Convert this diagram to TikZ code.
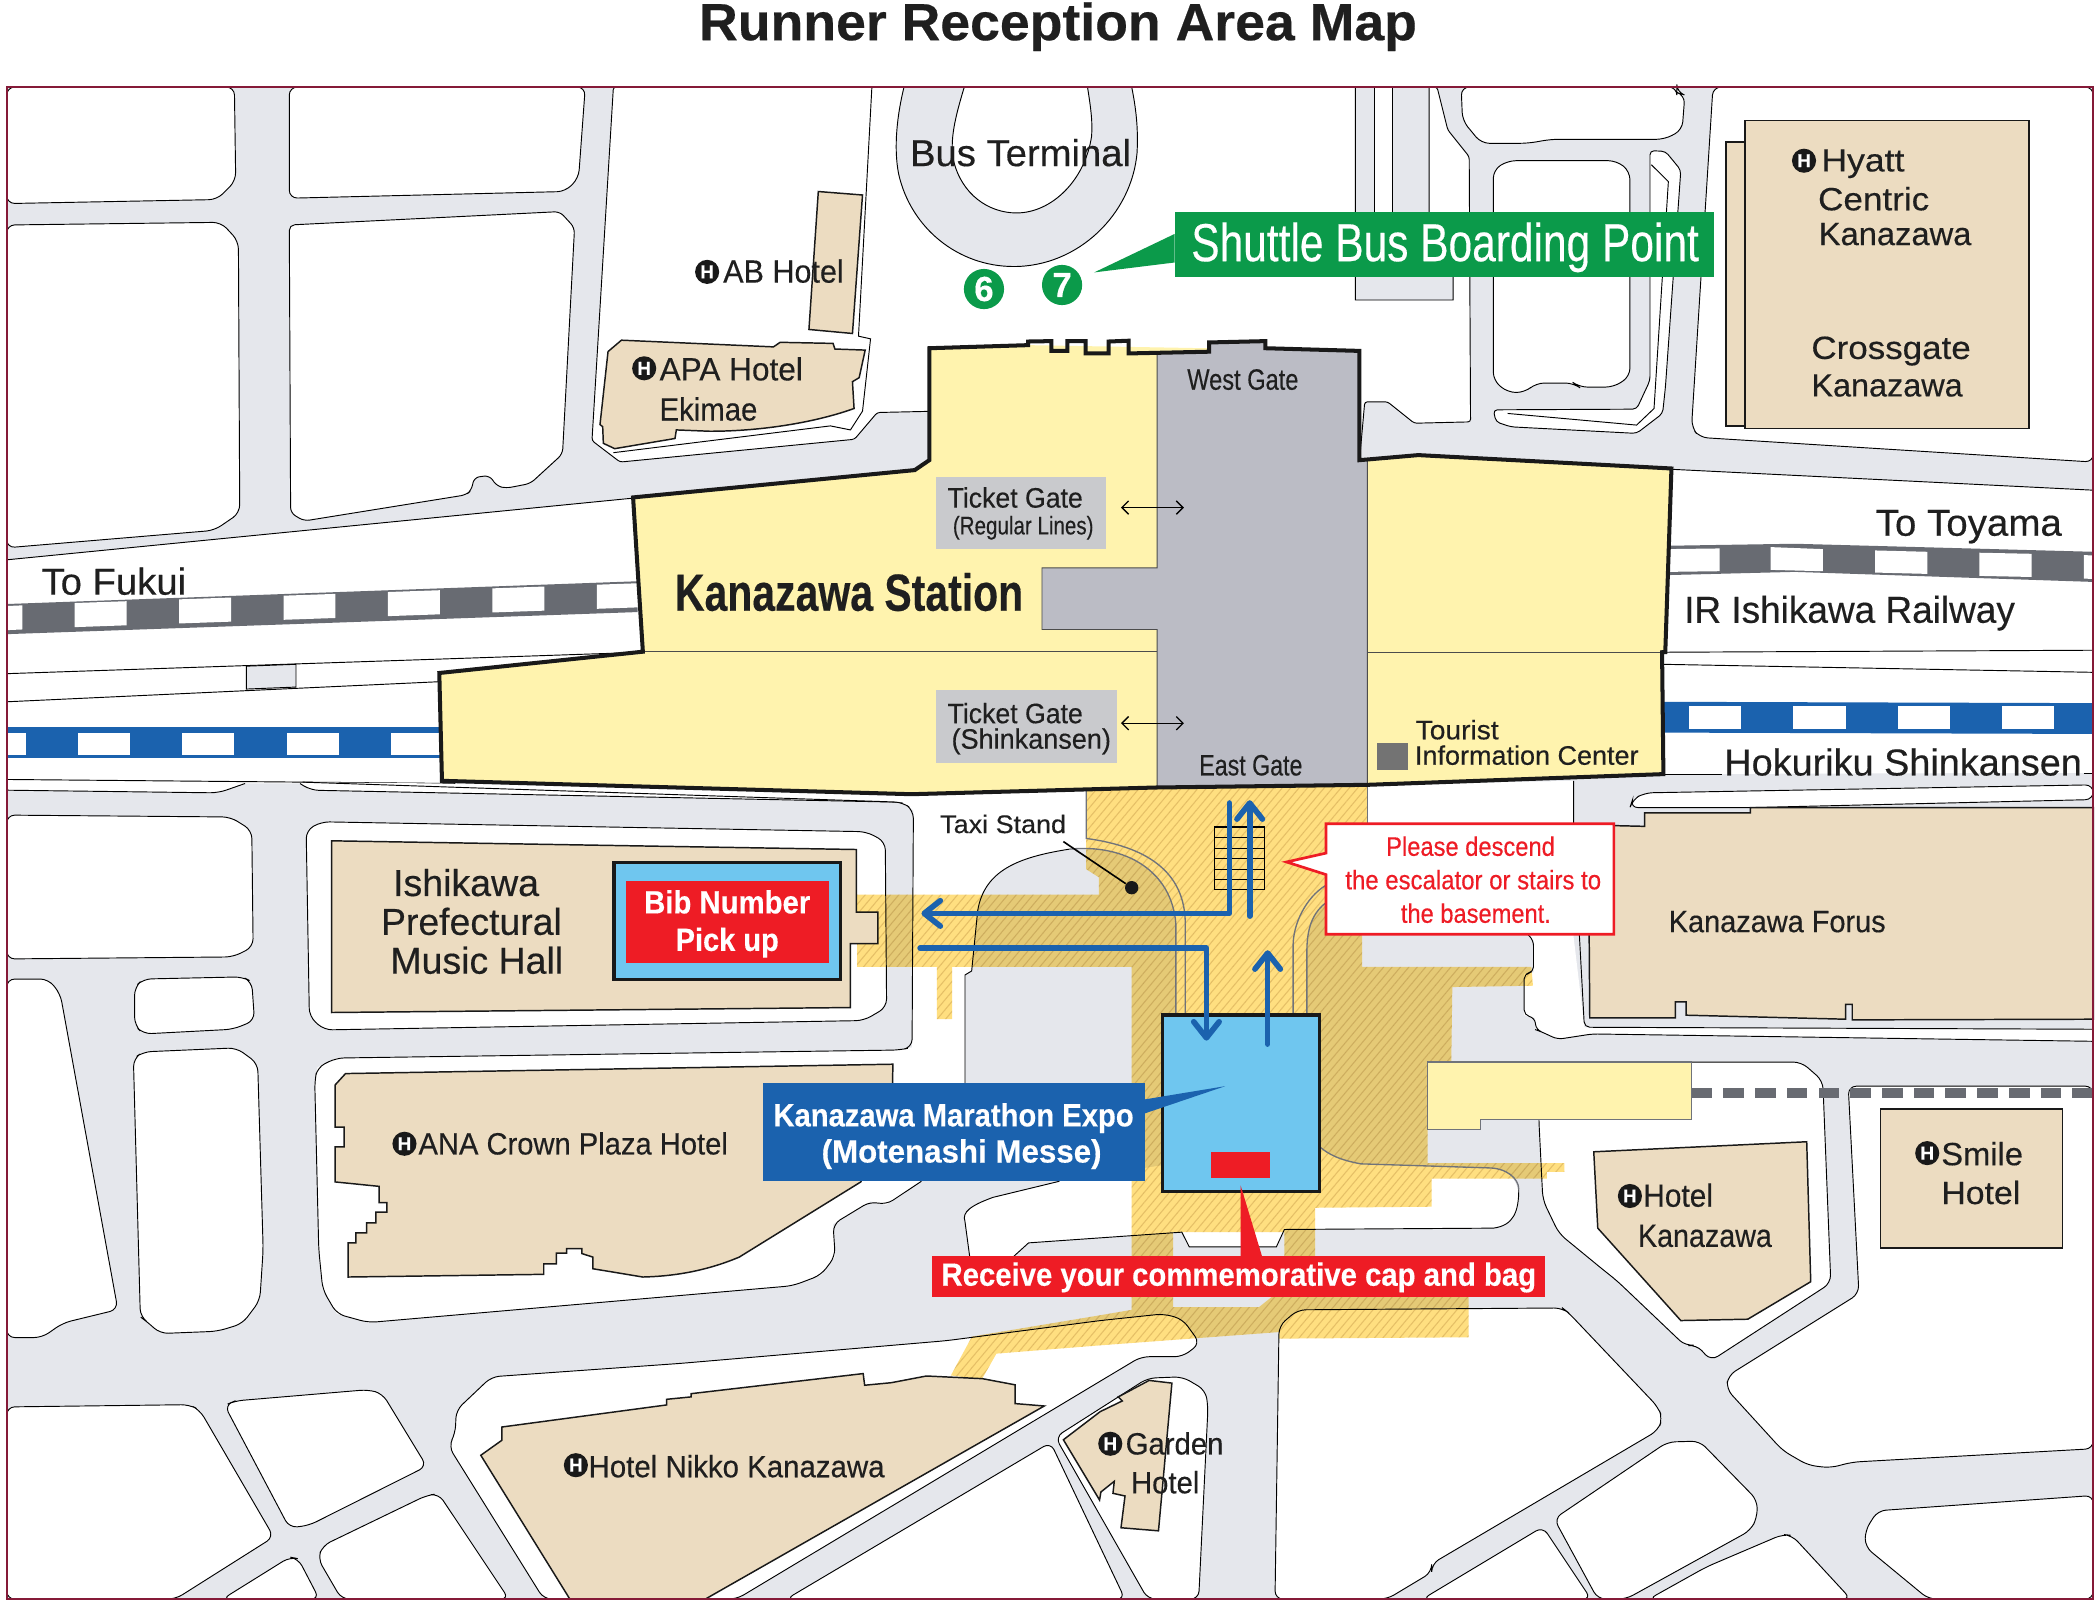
\documentclass[tikz,border=0pt]{standalone}
\usepackage{fontspec}
\setmainfont{Liberation Sans}[RawFeature={embolden=0.35}]
\usetikzlibrary{arrows.meta,patterns.meta}
\definecolor{roadc}{HTML}{E5E7EC}
\definecolor{beigec}{HTML}{ECDCC1}
\definecolor{yelc}{HTML}{FFF3AE}
\definecolor{stnc}{HTML}{BBBCC5}
\definecolor{gatec}{HTML}{C9CACD}
\definecolor{railc}{HTML}{686B72}
\definecolor{bluec}{HTML}{1B62AE}
\definecolor{skyc}{HTML}{6FC6EF}
\definecolor{redc}{HTML}{EE1C25}
\definecolor{greenc}{HTML}{0B9A4A}
\definecolor{framec}{HTML}{851A38}
\definecolor{hatchc}{HTML}{FFDF80}
\definecolor{hlinec}{HTML}{E6DCCE}
\definecolor{arcc}{HTML}{70737A}
\newcommand\fs[1]{\fontsize{#1}{#1}\selectfont}
\newcommand\fitw[2]{\resizebox{\dimexpr#1pt/2\relax}{\height}{#2}}
\newcommand\lab[6]{\node[lab] (#1) at (#2,#3) {\fs{#5}\fitw{#4}{#6}};}
\tikzset{
 lab/.style={anchor=base,inner sep=0pt,text=black!88},
 blk/.style={fill=white,draw=black,line width=.35pt,rounded corners=3pt},
 bld/.style={fill=beigec,draw=black!90,line width=.55pt,line join=miter},
 thin line/.style={draw=black,line width=.35pt},
 arc line/.style={draw=arcc,line width=.5pt},
 hic/.style={circle,fill=black!90,text=white,inner sep=0pt,minimum size=9pt,font=\fs{7}\bfseries},
 num/.style={circle,fill=greenc,text=white,inner sep=0pt,minimum size=15pt,font=\fs{13}\bfseries},
 flow/.style={draw=bluec,line width=2.1pt,line cap=round,line join=round},
 flowtip/.style={-{Straight Barb[length=6pt,width=9.5pt,round]}},
 gatearrow/.style={draw=black,line width=.5pt,{Straight Barb[length=2.5pt,width=5pt]}-{Straight Barb[length=2.5pt,width=5pt]}},
}
\begin{document}
\begin{tikzpicture}[x=0.5pt,y=-0.5pt]
\useasboundingbox (0,0) rectangle (1568,1199.1);
\fill[white] (0,0) rectangle (1568,1199.1);
% road base
\fill[roadc] (5,65) rectangle (1563,1194);
% white city blocks
\draw[blk] (5,65)--(175,65)--(176,135)--(162,149)--(5,152)--cycle;
\draw[blk] (216,65)--(437,65)--(432,133)--(422,143)--(216,148)--cycle;
\draw[blk] (5,168)--(165,166)--(178,180)--(179,383)--(160,396)--(5,409)--cycle;
\draw[blk,rounded corners=2pt] (216,168)--(418,158)--(429,170)--(420,339)--(396,361)--(378,364.5)--(371,363)--(365.5,355)--(354,356.5)--(352,366)--(348,369.5)--(227,389)--(217,383)--cycle;
\draw[blk] (5,608.6)--(172,610)--(188,620)--(189,707)--(174,714.5)--(5,716)--cycle;
\draw[blk] (107,731)--(181,729.4)--(188,733)--(190,762)--(174,768.5)--(107,772)--(100.5,765.5)--(100.5,737)--cycle;
\draw[blk] (107,785.4)--(176.5,782.4)--(192.4,794)--(196.5,933)--(194,971)--(181,988.3)--(162.4,994)--(119.5,995.7)--(110,987)--(104.8,983.3)--(99.6,790.4)--cycle;
\draw[blk] (5,731)--(36,731)--(45,742)--(88,977.8)--(47,987.8)--(31.4,998.7)--(5,998.7)--cycle;
\draw[blk] (5,1050.5)--(141.5,1048.8)--(149.3,1053)--(204.4,1147.6)--(131,1194)--(5,1194)--cycle;
\draw[blk] (167.7,1049.3)--(175.5,1046)--(275,1037.6)--(285.6,1040.6)--(318.6,1094.8)--(230.6,1139)--(216,1140.7)--cycle;
\draw[blk] (241,1154)--(318.6,1116.5)--(327.5,1115.3)--(380,1194)--(255,1194)--(237.4,1163.8)--cycle;
\draw[blk] (216.4,1162.6)--(222.7,1163.8)--(238.4,1194)--(166,1194)--cycle;
\draw[blk] (340.6,1053)--(367,1028)--(508,1018)--(707,1001)--(821.6,986)--(869,981)--(883,985)--(896,1003)--(883,1013)--(852,1013)--(550,1194)--(406,1194)--(335,1080)--(340,1070)--cycle;
\draw[blk] (587,1194)--(784.4,1077)--(840,1194)--cycle;
\draw[blk] (788,1073)--(857,1029)--(883,1028)--(900,1038)--(902,1050)--(895,1194)--(857,1194)--cycle;
\draw[blk] (952,1194)--(955,990)--(969,978)--(1166.6,976.6)--(1171,980)--(1238,1050.6)--(1241.3,1059)--(1238,1068)--(1069,1167.6)--(1069,1174)--(1035.7,1194)--cycle;
\draw[blk] (1062,1194)--(1152,1140)--(1188,1194)--cycle;
\draw[blk] (1160.4,1134)--(1245,1076.7)--(1269,1076)--(1312,1120)--(1312,1133)--(1307,1142.7)--(1214,1194)--(1193,1194)--cycle;
\draw[blk] (1231,1194)--(1274,1170)--(1331,1145.7)--(1338,1146.4)--(1382,1194)--cycle;
\draw[blk] (1440,1194)--(1392.7,1155)--(1392.7,1142.7)--(1402,1128)--(1563,1116.6)--(1563,1194)--cycle;
\draw[blk] (1380,811)--(1563,811)--(1563,1081.7)--(1383,1091.7)--(1366.5,1096)--(1350,1094)--(1331,1083)--(1289,1037)--(1290.4,1027)--(1388,966)--cycle;
\draw[blk] (1149,793)--(1345,793)--(1361,807)--(1367,958)--(1277.5,1016)--(1266.6,1004)--(1258.5,1005)--(1207,956)--(1197.5,948.5)--(1164,921)--(1152,896)--(1149,836)--cycle;
% plaza north of the station
\draw[blk,rounded corners=1pt] (458,65)--(442,329)--(463,345)--(638,328)--(655,308)--(700,307)--(1015,345)--(1019,300)--(1036,300)--(1056,316)--(1098,315)--(1097,117)--(1081,97)--(1073,65)--cycle;
\draw[thin line] (651,65)--(641,251)--(650,253)--(644,307)--(635,321)--(620,318)--(458,338);
% bus terminal ring
\draw[fill=roadc,thin line] (675,65) .. controls (670,85) and (667,110) .. (671,130) .. controls (680,170) and (715,199) .. (757,199) .. controls (805,199) and (845,160) .. (849,114) .. controls (850,95) and (848,80) .. (845,65) -- (812,65) .. controls (814,78) and (816,90) .. (815,102) .. controls (810,135) and (785,159) .. (759,159) .. controls (738,159) and (718,145) .. (712,120) .. controls (709,105) and (713,88) .. (720,65) -- cycle;
% gray bar north east of the station
\draw[fill=roadc,thin line] (1012,65)--(1012,224)--(1085,224)--(1085,190)--(1067,160)--(1067,65)--cycle;
\draw[fill=white,thin line] (1026,65) rectangle (1040,190);
\draw[blk] (1091,65)--(1092,90)--(1106,107)--(1141,107)--(1158,104)--(1243,104)--(1256,97)--(1258,71)--(1252,69)--(1252,65)--cycle;
\draw[blk] (1115,127)--(1125.7,120)--(1207,120)--(1217,128)--(1217,281)--(1205,289)--(1179,289)--(1175,286)--(1147,286)--(1138.5,293)--(1125.7,293)--(1115,284)--cycle;
\draw[blk,rounded corners=1.5pt] (1232,112.5)--(1243.5,113)--(1255,127)--(1243.5,289)--(1241.4,308.7)--(1222,323.6)--(1128,318.7)--(1117,315)--(1115,306)--(1222,305.5)--(1232,284)--cycle;
\draw[thin line] (1233,123)--(1245.7,135.6)--(1235,305)--(1222,317.4)--(1125.7,308.7);
\draw[blk] (1279,65)--(1263,319)--(1269,326.6)--(1563,345)--(1563,65)--cycle;
% rail bands
\draw[blk,rounded corners=0pt,draw=none] (5,418)--(472,372)--(480,500)--(340,585)--(690,593)--(674,599)--(232,590)--(224,585)--(183,585)--(163,592)--(5,590)--cycle;
\draw[thin line] (5,418)--(472,372);
\draw[thin line,rounded corners=2pt] (5,582)--(340,585);
\draw[thin line,rounded corners=3pt] (5,590)--(163,592)--(183,585);
\draw[thin line,rounded corners=3pt] (224,585)--(232,590)--(674,599);
\draw[thin line] (5,503)--(480,487);
\draw[thin line] (5,524)--(328,509);
\draw[thin line,fill=roadc] (184,497.4)--(221,496)--(221,513)--(184,514.5)--cycle;
\fill[railc] (5,451)--(476,434)--(476,457)--(5,473.5)--cycle;
\foreach \k in {0,...,5}{
  \pgfmathsetmacro\xa{55.7+78*\k}
  \pgfmathsetmacro\xb{94.5+78*\k}
  \pgfmathsetmacro\ya{462-.0351*(\xa-6)}
  \pgfmathsetmacro\yb{462-.0351*(\xb-6)}
  \fill[white] (\xa,\ya-10)--(\xb,\yb-10)--(\xb,\yb+8)--(\xa,\ya+8)--cycle;
}
\fill[white] (5,452.5)--(16.7,452)--(16.7,470)--(5,470.5)--cycle;
\fill[bluec] (5,543) rectangle (335,566);
\foreach \xa in {5,58,136,214,292}{
  \pgfmathsetmacro\xb{\xa==5 ? 19.6 : \xa+39}
  \fill[white] (\xa,547) rectangle (\xb,563.4);
}
% right rail band
\fill[white] (1240,350)--(1563,366)--(1563,577)--(1240,578)--cycle;
\draw[thin line] (1240,350)--(1563,366);
\draw[fill=railc,draw=none] (1245,407.5)--(1340,406)--(1563,412)--(1563,434.5)--(1340,427)--(1245,429.4)--cycle;
\fill[white] (1245,410)--(1284,409.5)--(1284,426.5)--(1245,427)--cycle;
\fill[white] (1322,408.5)--(1361,410)--(1361,426.5)--(1322,425.5)--cycle;
\fill[white] (1400,411)--(1439,412)--(1439,428.5)--(1400,427.5)--cycle;
\fill[white] (1478,412.7)--(1517,413.5)--(1517,430.8)--(1478,430)--cycle;
\fill[white] (1556,414.5)--(1563,414.7)--(1563,432.3)--(1556,432)--cycle;
\draw[thin line] (1243,487)--(1563,485.5);
\draw[thin line] (1241,496)--(1563,502);
\fill[bluec] (1240,524)--(1563,525)--(1563,548)--(1240,547)--cycle;
\foreach \xa in {1261,1339,1417,1495}{
  \fill[white] (\xa,527) rectangle ({\xa+39},544.3);
}
\draw[thin line] (1242,578)--(1286,578);
\draw[thin line] (1556,577.5)--(1563,577.5);
% lower-strip north of Forus
\draw[blk] (1217,603)--(1219,597)--(1228,592)--(1563,586)--(1563,597)--(1307,603)--cycle;
% white zones around the plaza (stroked later)
\def\pathT{(226,584)--(674,599)--(682,605)--(681,782)--(672,784)--(251,790)--(237,797)--(235,807)--(238,933)--(241,963)--(251.5,981)--(275,987.5)--(592,960)--(613,952)--(623.6,938)--(622,914)--(650,897)--(661.5,899.6)--(688,882)--(720.5,809)--(720.5,728)--(725.5,725)--(730,680) .. controls (735,650) and (760,640) .. (798.6,634)--(811,626)--(811,590)--(690,593)--(330,585)--cycle}
\fill[white] \pathT;
\def\pathC{(811,590)--(1175,583)--(1175,700)--(1183,767)--(1563,768.5)--(1563,777.5)--(1189,772)--(1163,776)--(1150,770)--(1147,769)--(1146,760)--(1138,758)--(1138,727)--(1145,726)--(1145,702)--(1141,698)--(1000,698)--(990,674) .. controls (982,680) and (976,690) .. (975.8,709)--(975.8,757)--(878,757)--(878,690) .. controls (875,650) and (840,630) .. (798.6,634)--(811,626)--cycle}
\fill[white] \pathC;
\def\pathI{(868,870)--(791,882)--(741.5,894) .. controls (725,900) and (718,905) .. (720.5,912)--(724,938)--(757,938)--(768,928)--(882.4,920)--(888,931)--(953,931)--(959,918)--(1115,917) .. controls (1130,915) and (1134,905) .. (1134,895) .. controls (1134,880) and (1125,872) .. (1111,872)--(1016,869) .. controls (1000,866) and (992,862) .. (985,856)--(985,800)--(868,800)--cycle}
\fill[white] \pathI;
\draw[blk] (228.6,620)--(240,613.6)--(647,621)--(661,628.6)--(662,752)--(645,762)--(242,769)--(231,759)--cycle;
% hatched underground mall
\begin{scope}[blend mode=multiply]
\path[fill=hatchc,even odd rule,postaction={pattern={Lines[angle=50,distance=2.4pt,line width=.4pt]},pattern color=hlinec}]
 (811,588)--(1021,586)--(1021,640)--(1017,698)--(1017,722)--(1143.4,722)--(1144.6,736)--(1084.4,737)--(1083.6,793)--(1066,793)--(1066,868.4)--(1168,868.4)--(1168,875)--(1155,875)--(1155,880)--(1069,880)--(1069,901)--(982,901.8)--(982,968)--(1096.6,968)--(1096.6,998.5)--(955,999.5)--(955,994.6)--(821.6,1004.5)--(744,1010.7)--(733,1030)--(710,1027)--(725.7,998)--(821.6,982)--(845,978)--(845,722)--(711,722)--(711,761)--(699.6,761)--(699.6,722)--(640,722)--(640,668)--(820.4,668)--(820.4,655)--(811,649)--cycle
 (876,920)--(959,920)--(959,968)--(950,968)--(940,976)--(876,976)--cycle;
\end{scope}
% road edge strokes over the hatch
\draw[thin line,rounded corners=3pt] (226,584)--(674,599)--(682,605)--(681,782)--(672,784)--(251,790)--(237,797)--(235,807)--(238,933)--(241,963)--(251.5,981)--(275,987.5)--(592,960)--(613,952)--(623.6,938)--(622,914)--(650,897)--(661.5,899.6)--(688,882);
\draw[thin line] (720.5,809)--(720.5,728)--(725.5,725)--(730,680) .. controls (735,650) and (760,640) .. (798.6,634);
\draw[arc line] (798.6,634) .. controls (840,630) and (875,650) .. (878,690)--(878,757);
\draw[arc line] (811,590)--(811,626) .. controls (855,632) and (885,650) .. (885,690)--(885,757);
\draw[arc line] (1021,586)--(1021,640);
\draw[arc line] (965.5,757)--(965.5,706) .. controls (965.5,690) and (975,670) .. (990,661);
\draw[arc line] (975.8,757)--(975.8,709) .. controls (976,690) and (982,680) .. (990,674);
\draw[arc line] (985,856) .. controls (992,862) and (1000,866) .. (1016,869)--(1111,872) .. controls (1125,872) and (1134,880) .. (1134,888);
\draw[thin line] (1134,888) .. controls (1134,905) and (1130,915) .. (1115,917)--(959,918)--(953,931)--(888,931)--(882.4,920)--(768,928)--(757,938);
\draw[thin line] (791,882)--(741.5,894) .. controls (725,900) and (718,905) .. (720.5,912)--(724,938);
\draw[thin line,rounded corners=2pt] (1175,583)--(1175,620)--(1183,767)--(1563,768.5);
\draw[thin line,rounded corners=2pt] (1563,777.5)--(1189,772)--(1163,776)--(1150,770)--(1147,769)--(1146,760)--(1138,758)--(1138,727)--(1145,726)--(1145,702)--(1141,698);
% buildings
\path[bld] (611,143)--(644,145.6)--(636.5,249)--(604,246)--cycle;
\path[bld] (464,254)--(577.5,259)--(582.5,255.6)--(622,256.4)--(623.4,260.6)--(646,261.4)--(641.5,282)--(636.5,285)--(637.7,305) .. controls (610,315) and (570,322) .. (530,322)--(505,321)--(504,327.4)--(459,335)--(450.5,331)--(450,318.6)--(448,317)--(454,262.5)--cycle;
\path[bld] (1288.6,106) rectangle (1303,318);
\path[bld] (1303,90) rectangle (1515,320);
\path[bld] (247.6,627.8)--(639.5,634.3)--(639.5,681)--(655.4,681)--(655.4,704.5)--(635,704.5)--(635,752.3)--(247.6,756)--cycle;
\path[bld] (258,801.6)--(666.7,794.6)--(666,830)--(642.7,882.5)--(552,938.6) .. controls (525,950) and (500,953) .. (480,953.5)--(442.6,947.3)--(442.6,938.6)--(434.5,936)--(434.5,932.3)--(423,932.3)--(423,935.6)--(415.5,935.6)--(415.5,943.6)--(406,943.6)--(406,951.5)--(260,953.5)--(260,928)--(265.7,928)--(265.7,920.6)--(273.8,920.6)--(273.8,913)--(280.6,913)--(280.6,905)--(288.8,905)--(288.8,898)--(283,898)--(283,885.8)--(250.3,882.5)--(250.3,856.4)--(257,856.4)--(257,841.5)--(250.3,841.5)--(250.3,810)--cycle;
\path[bld] (374.7,1065.5)--(497.8,1049)--(497.8,1044.8)--(516,1043)--(516,1040.6)--(644.5,1025.6)--(645.6,1034.3)--(665.5,1032.4)--(691.7,1027.4)--(733.6,1029.4)--(758,1034)--(758,1048)--(779.7,1049.8)--(526.6,1194)--(425.5,1194)--(359,1086.6)--(374.7,1075.4)--cycle;
\path[bld] (794,1075)--(821.5,1054)--(838,1046)--(835,1043)--(858,1030.7)--(875,1032.7)--(865,1143)--(837,1140.7)--(840,1117)--(831,1115)--(832,1106)--(822,1114)--(821,1120)--cycle;
\path[bld] (1190,860)--(1349,852.5)--(1352,957)--(1305,985)--(1255,986)--(1193,917)--cycle;
\path[bld] (1404,828) rectangle (1540,932);
\path[bld] (1307,603)--(1563,603)--(1563,761)--(1383,761.5)--(1383,750)--(1378,750)--(1378,761)--(1259,758)--(1259,748)--(1251,748)--(1251,760)--(1187,760)--(1186,616)--(1228,617)--(1228,607)--(1307,607)--cycle;
% small station annex and dashes
\draw[fill=yelc,draw=arcc,line width=.5pt] (1066,793)--(1263,793)--(1263,836)--(1105.6,836)--(1105.6,843.4)--(1066,843.4)--cycle;
\foreach \k in {0,...,12}{
  \fill[railc] ({1263+23.7*\k},812) rectangle ({1278.4+23.7*\k},820);
}
% station
\fill[yelc] (694,260)--(767.7,257.7)--(1015,262)--(1015,343.6)--(1059,339.8)--(1248,349.8)--(1243.4,486.9)--(1241,487)--(1242,578)--(1021,586)--(863,588)--(680.5,593)--(330,583)--(328,502.5)--(480,486.6)--(472.7,371.4)--(683,351)--(694,343.5)--cycle;
\draw[fill=stnc,draw=black!70,line width=.35pt] (864,263.5)--(902.8,262.6)--(902.8,255.7)--(944.8,254.7)--(944.8,260)--(1015,262)--(1015,343.6)--(1021,343)--(1021,586)--(864,588)--(864,470)--(778,470)--(778,424)--(864,424)--cycle;
\draw[draw=black!70,line width=.35pt] (480,486.6)--(864,486.6) (1021,487)--(1241,487);
\draw[draw=black!90,line width=1.5pt,line join=miter] (694,260)--(767.7,257.7)--(767.7,255)--(785,254.7)--(785,262)--(797,262)--(797,254.7)--(810.6,254.7)--(810.6,263.9)--(827.7,263.9)--(827.7,255)--(842.7,254.4)--(842.7,263.9)--(902.8,262.6)--(902.8,255.7)--(944.8,254.7)--(944.8,260)--(1015,262)--(1015,343.6)--(1059,339.8)--(1248,349.8)--(1243.4,486.9)--(1241,487)--(1242,578)--(1021,586)--(863,588)--(680.5,593)--(330,583)--(328,502.5)--(480,486.6)--(472.7,371.4)--(683,351)--(694,343.5)--cycle;
\fill[gatec] (699,356) rectangle (826,410);
\fill[gatec] (699,515) rectangle (834,570);
\fill[black!55] (1028,555) rectangle (1051,575);
\coordinate (ga1) at (837,379); \coordinate (gb1) at (884,379);
\coordinate (ga2) at (837,540); \coordinate (gb2) at (884,540);
\draw[gatearrow] (ga1)--(gb1);
\draw[gatearrow] (ga2)--(gb2);
% hall boxes
\draw[fill=skyc,draw=black!90,line width=1.3pt] (458.5,644) rectangle (627.7,731.4);
\fill[redc] (467.5,658) rectangle (619,718.7);
\draw[fill=skyc,draw=black!90,line width=1.3pt] (868,758) rectangle (985.3,889.8);
\fill[redc] (904.5,860) rectangle (948,879.6);
% stairs
\draw[draw=black,line width=.4pt] (906.8,617.5) rectangle (943.8,664.4);
\foreach \y in {625.3,633.3,641.3,649.3,657}{\draw[draw=black,line width=.4pt] (906.8,\y)--(943.8,\y);}
% flow arrows
\coordinate (fa) at (917.9,599.6); \coordinate (fab) at (917.9,682); \coordinate (fac) at (688,682);
\coordinate (fb) at (933.1,684); \coordinate (fbt) at (933.1,597.5);
\coordinate (fc) at (687,708); \coordinate (fcb) at (900.8,708); \coordinate (fce) at (900.8,777);
\coordinate (fd) at (946.5,779.6); \coordinate (fdt) at (946.5,709.5);
\draw[flow,flowtip] (fa)--(fab)--(fac);
\draw[flow,flowtip] (fb)--(fbt);
\draw[flow,flowtip] (fc)--(fcb)--(fce);
\draw[flow,flowtip] (fd)--(fdt);
% taxi
\node[circle,fill=black!90,minimum size=5pt,inner sep=0pt] (taxidot) at (845,662.8) {};
\coordinate (taxifrom) at (794,628.4);
\draw[draw=black,line width=.6pt] (taxifrom)--(taxidot);
% callouts
\fill[greenc] (877,158.6) rectangle (1280,207);
\fill[greenc] (877,174.7)--(817,203.4)--(877,196)--cycle;
\fill[bluec] (569.4,809) rectangle (854.6,881.7);
\fill[bluec] (854,821)--(914.8,811)--(854,831.6)--cycle;
\fill[redc] (695.8,937.8) rectangle (1153.7,968.7);
\fill[redc] (926.3,885)--(926.3,938)--(942.3,938)--cycle;
\draw[fill=white,draw=redc,line width=1pt,line join=miter] (990,615)--(1205,615)--(1205,697.5)--(990,697.5)--(990,653)--(960.6,643.6)--(990,637)--cycle;
\node[num] (six) at (734.7,215.8) {6};
\node[num] (seven) at (793,212.8) {7};
% labels
\lab{title}{790}{30}{536}{19.5}{\bfseries Runner Reception Area Map}
\lab{busterm}{762}{124}{165}{14}{Bus Terminal}
\lab{shuttle}{1079}{195}{379}{20}{\color{white}Shuttle Bus Boarding Point}
\node[hic] (habh) at (528,203) {H};
\lab{abh}{585}{211}{90}{12}{AB Hotel}
\node[hic] (hapa) at (481,275) {H};
\lab{apa}{546}{284}{107}{12}{APA Hotel}
\lab{eki}{529}{314}{73}{12}{Ekimae}
\node[hic] (hhy) at (1347,120) {H};
\lab{hy}{1391}{128}{62}{12}{Hyatt}
\lab{cen}{1399}{157}{83}{12}{Centric}
\lab{kz1}{1415}{183}{114}{12}{Kanazawa}
\lab{cro}{1412}{268}{119}{12}{Crossgate}
\lab{kz2}{1409}{296}{113}{12}{Kanazawa}
\lab{west}{928}{291}{83}{11}{West Gate}
\lab{east}{934}{579}{77}{11}{East Gate}
\lab{tg1}{758}{379}{101}{10.5}{Ticket Gate}
\lab{rl}{764}{399}{105}{9.5}{(Regular Lines)}
\lab{tg2}{758}{540}{101}{10.5}{Ticket Gate}
\lab{shk}{770}{559}{119}{10.5}{(Shinkansen)}
\lab{kst}{634}{456}{260}{19.5}{\bfseries Kanazawa Station}
\lab{fuk}{85}{444}{108}{14}{To Fukui}
\lab{toy}{1470}{400}{139}{14}{To Toyama}
\lab{irr}{1381}{465}{247}{14}{IR Ishikawa Railway}
\lab{hok}{1421}{579}{267}{14}{Hokuriku Shinkansen}
\lab{tou}{1088}{552}{62}{10}{Tourist}
\lab{inf}{1140}{571}{167}{10}{Information Center}
\lab{taxi}{749}{622}{94}{9.5}{Taxi Stand}
\lab{pl1}{1098}{639}{126}{10}{\color{redc}Please descend}
\lab{pl2}{1100}{664}{191}{10}{\color{redc}the escalator or stairs to}
\lab{pl3}{1102}{689}{112}{10}{\color{redc}the basement.}
\lab{ish}{348}{669}{109}{14}{Ishikawa}
\lab{pre}{352}{698}{135}{14}{Prefectural}
\lab{mus}{356}{727}{129}{14}{Music Hall}
\lab{bib}{543}{682}{124}{12}{\bfseries\color{white}Bib Number}
\lab{pic}{543}{710}{77}{12}{\bfseries\color{white}Pick up}
\node[hic] (hana) at (302,854) {H};
\lab{ana}{428}{862}{231}{11.5}{ANA Crown Plaza Hotel}
\lab{exp}{712}{841}{269}{12}{\bfseries\color{white}Kanazawa Marathon Expo}
\lab{mot}{718}{868}{209}{12}{\bfseries\color{white}(Motenashi Messe)}
\lab{rec}{925}{960}{444}{12}{\bfseries\color{white}Receive your commemorative cap and bag}
\lab{for}{1327}{696}{162}{11.5}{Kanazawa Forus}
\node[hic] (hsm) at (1439,861) {H};
\lab{sm}{1480}{870}{61}{12}{Smile}
\lab{hsm2}{1479}{899}{59}{12}{Hotel}
\node[hic] (hka) at (1217,893) {H};
\lab{hk1}{1253}{901}{52}{12}{Hotel}
\lab{hk2}{1273}{931}{100}{12}{Kanazawa}
\node[hic] (hni) at (430,1094) {H};
\lab{nik}{550}{1103}{221}{11.5}{Hotel Nikko Kanazawa}
\node[hic] (hga) at (829,1078) {H};
\lab{gar}{877}{1086}{73}{11.5}{Garden}
\lab{gho}{870}{1115}{51}{11.5}{Hotel}
% frame
\draw[draw=framec,line width=.8pt] (5,65) rectangle (1563,1194);
\end{tikzpicture}
\end{document}
